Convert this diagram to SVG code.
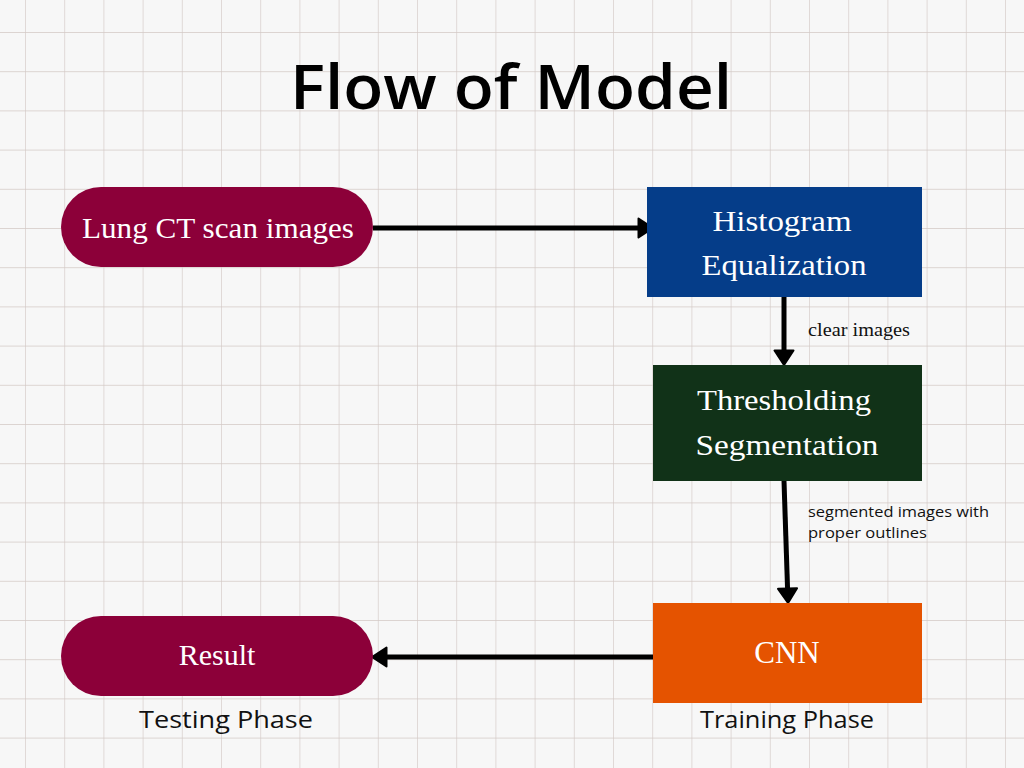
<svg xmlns="http://www.w3.org/2000/svg" width="1024" height="768" viewBox="0 0 1024 768">
<defs>
<pattern id="grid" x="25" y="32" width="39.2" height="39.2" patternUnits="userSpaceOnUse">
<path d="M0,0 V39.2 M0,0 H39.2" fill="none" stroke="#d3c9c5" stroke-width="1.3"/>
</pattern>
<marker id="arrow" viewBox="0 0 18 22" refX="6" refY="11" markerWidth="18" markerHeight="22" markerUnits="userSpaceOnUse" orient="auto">
<path d="M1.5,1.5 L16,11 L1.5,20.5 Z" fill="#000" stroke="#000" stroke-width="2" stroke-linejoin="round"/>
</marker>
</defs>
<style>
.node-text{font-family:"Liberation Serif","DejaVu Serif",serif;fill:#ffffff;text-anchor:middle}
.conn{stroke:#000;stroke-width:5;fill:none;marker-end:url(#arrow)}
.label{font-family:"Open Sans","Liberation Sans",sans-serif;fill:#111}
.serif-label{font-family:"Liberation Serif","DejaVu Serif",serif;fill:#111}
</style>
<rect x="0" y="0" width="1024" height="768" fill="#f7f7f7"/>
<rect x="0" y="0" width="1024" height="768" fill="url(#grid)"/>

<text x="511" y="109" font-family="'Open Sans','Liberation Sans',sans-serif" font-weight="600" font-size="62" fill="#000" text-anchor="middle" textLength="442" lengthAdjust="spacingAndGlyphs">Flow of Model</text>

<g id="connectors">
<line class="conn" x1="373" y1="228" x2="643" y2="228"/>
<line class="conn" x1="784" y1="297" x2="784" y2="355"/>
<line class="conn" x1="784" y1="481" x2="787.7" y2="593"/>
<line class="conn" x1="653" y1="657" x2="382" y2="657"/>
</g>

<g id="node-lung">
<rect x="61" y="187" width="312" height="80" rx="40" ry="40" fill="#8c0039"/>
<text class="node-text" x="218" y="238" font-size="29" textLength="272" lengthAdjust="spacingAndGlyphs">Lung CT scan images</text>
</g>

<g id="node-histogram">
<rect x="647" y="187" width="275" height="110" fill="#053d89"/>
<text class="node-text" x="782" y="231" font-size="30" textLength="139" lengthAdjust="spacingAndGlyphs">Histogram</text>
<text class="node-text" x="784" y="275" font-size="30" textLength="165" lengthAdjust="spacingAndGlyphs">Equalization</text>
</g>

<g id="node-threshold">
<rect x="653" y="365" width="269" height="116" fill="#113218"/>
<text class="node-text" x="784" y="410" font-size="30" textLength="174" lengthAdjust="spacingAndGlyphs">Thresholding</text>
<text class="node-text" x="787" y="455" font-size="30" textLength="183" lengthAdjust="spacingAndGlyphs">Segmentation</text>
</g>

<g id="node-cnn">
<rect x="653" y="603" width="269" height="100" fill="#e55300"/>
<text class="node-text" x="787" y="663" font-size="31">CNN</text>
</g>

<g id="node-result">
<rect x="61" y="616" width="312" height="80" rx="40" ry="40" fill="#8c0039"/>
<text class="node-text" x="217" y="665" font-size="30">Result</text>
</g>

<g id="labels">
<text class="serif-label" x="808" y="336" font-size="19" textLength="102" lengthAdjust="spacingAndGlyphs">clear images</text>
<text class="label" x="808" y="517" font-size="15" textLength="181" lengthAdjust="spacingAndGlyphs">segmented images with</text>
<text class="label" x="808" y="538" font-size="15" textLength="119" lengthAdjust="spacingAndGlyphs">proper outlines</text>
<text class="label" x="226" y="728" font-size="24" text-anchor="middle" textLength="174" lengthAdjust="spacingAndGlyphs">Testing Phase</text>
<text class="label" x="787" y="728" font-size="24" text-anchor="middle" textLength="174" lengthAdjust="spacingAndGlyphs">Training Phase</text>
</g>
</svg>
